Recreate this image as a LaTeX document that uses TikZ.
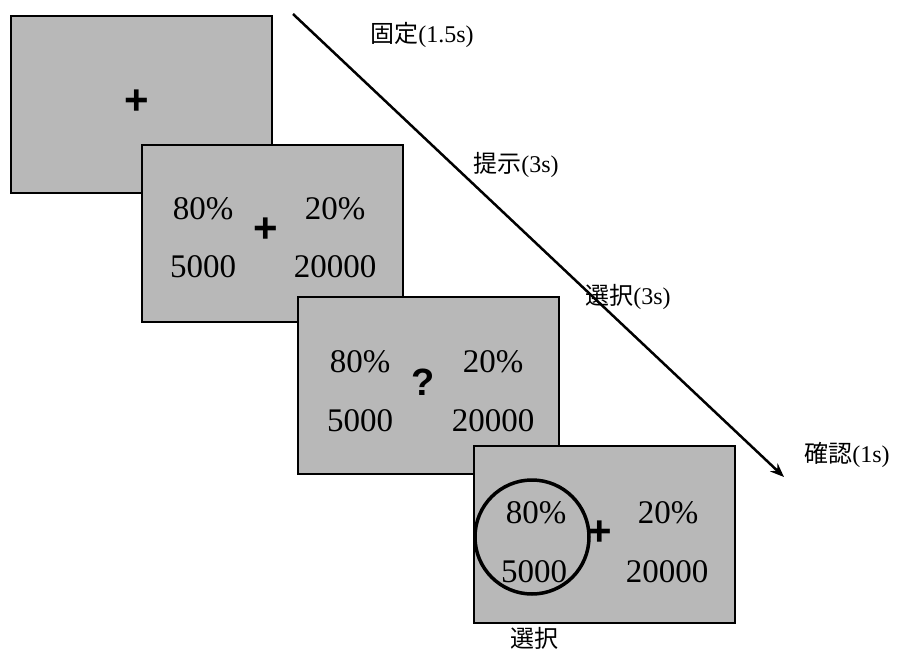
\documentclass[tikz,border=0pt]{standalone}
\usepackage{fontspec}
\setmainfont{Liberation Serif}
\newfontfamily\cjkfont{Noto Sans CJK JP}
\newfontfamily\symfont{Liberation Sans}
\usetikzlibrary{arrows.meta}
\definecolor{screengray}{RGB}{184,184,184}
\tikzset{
  screen/.style={draw=black, line width=2pt, fill=screengray, minimum width=261pt, minimum height=177pt, inner sep=0pt, anchor=north west},
  num/.style={font=\fontsize{33}{33}\selectfont, inner sep=0pt},
  symb/.style={font=\symfont\bfseries\fontsize{42}{42}\selectfont, inner sep=0pt},
  qmark/.style={font=\symfont\bfseries\fontsize{38}{38}\selectfont, inner sep=0pt},
  lab/.style={font=\fontsize{24}{24}\selectfont, inner sep=0pt},
}
\begin{document}
\begin{tikzpicture}[x=1pt,y=-1pt]
\useasboundingbox (0,0) rectangle (899,653);
% screen 1
\node[screen] (s1) at (10,15) {};
\node[symb] (p1) at (137,102) {+};
% screen 2
\node[screen] (s2) at (141,144) {};
\node[num] (a2) at (203,209) {80\%};
\node[num] (b2) at (203,267) {5000};
\node[num] (c2) at (335,209) {20\%};
\node[num] (d2) at (335,267) {20000};
\node[symb] (p2) at (266,230) {+};
% screen 3
\node[screen] (s3) at (297,296) {};
\node[num] (a3) at (360,362) {80\%};
\node[num] (b3) at (360,421) {5000};
\node[num] (c3) at (493,362) {20\%};
\node[num] (d3) at (493,421) {20000};
\node[qmark] (p3) at (423,382) {?};
% screen 4
\node[screen] (s4) at (473,445) {};
\node[num] (a4) at (536,513) {80\%};
\node[num] (b4) at (534,572) {5000};
\node[num] (c4) at (668,513) {20\%};
\node[num] (d4) at (667,572) {20000};
\node[symb] (p4) at (600,533) {+};
\node[draw=black, line width=3.5pt, circle, minimum size=114pt, inner sep=0pt] (ring) at (532,537) {};
% time arrow
\coordinate (t0) at (293,14);
\coordinate (t1) at (784,477);
\draw[line width=2.5pt, -{Stealth[length=14pt,width=11pt]}] (t0) -- (t1);
% labels
\node[lab] (l1) at (422,35) {{\cjkfont 固定}(1.5s)};
\node[lab] (l2) at (516,165) {{\cjkfont 提示}(3s)};
\node[lab] (l3) at (628,297) {{\cjkfont 選択}(3s)};
\node[lab] (l4) at (847,455) {{\cjkfont 確認}(1s)};
\node[lab] (l5) at (534,638) {\cjkfont 選択};
\end{tikzpicture}
\end{document}
